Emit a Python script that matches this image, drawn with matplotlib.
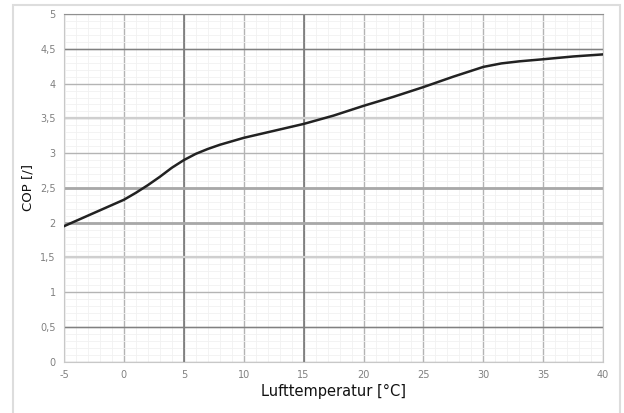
import matplotlib.pyplot as plt
from matplotlib.patches import Rectangle
from matplotlib.ticker import MultipleLocator, FuncFormatter

plt.rcParams['axes.unicode_minus'] = False

# Lufttemperatur [°C] und COP-Werte
temp = [-5, -2.5, 0, 1, 2, 3, 4, 5, 6, 7, 8, 10, 12.5, 15, 17.5, 20, 22.5, 25,
        27.5, 30, 31.5, 33, 35, 37.5, 40]
cop = [1.95, 2.14, 2.33, 2.43, 2.54, 2.66, 2.79, 2.9, 2.99, 3.06, 3.12, 3.22,
       3.32, 3.42, 3.54, 3.68, 3.81, 3.95, 4.1, 4.24, 4.29, 4.32, 4.35, 4.39, 4.42]

x_ticks = [-5, 0, 5, 10, 15, 20, 25, 30, 35, 40]
y_ticks = [0, 0.5, 1, 1.5, 2, 2.5, 3, 3.5, 4, 4.5, 5]

fig = plt.figure(figsize=(6.24, 4.13), dpi=100)
ax = fig.add_axes([0.1026, 0.124, 0.864, 0.842])

# aeusserer Rahmen
fig.patches.append(Rectangle((13 / 624, -0.01), 607 / 624, 1 - 5 / 413 + 0.01,
                             transform=fig.transFigure, fill=False,
                             edgecolor='#dddddd', linewidth=1.5))

ax.set_xlim(-5, 40)
ax.set_ylim(0, 5)
ax.set_xticks(x_ticks)
ax.set_yticks(y_ticks)
ax.xaxis.set_minor_locator(MultipleLocator(1))
ax.yaxis.set_minor_locator(MultipleLocator(0.1))
ax.yaxis.set_major_formatter(FuncFormatter(lambda v, p: ('%g' % v).replace('.', ',')))

ax.grid(which='minor', color='#f1f1f1', linewidth=0.6)
ax.grid(which='major', color='#b4b4b4', linewidth=1.0)
ax.set_axisbelow(True)

# dunklere Hauptlinien wie im Original
for xv in [5, 15]:
    ax.axvline(xv, color='#707070', linewidth=1.1, zorder=1)
for yv in [4.5, 0.5]:
    ax.axhline(yv, color='#808080', linewidth=1.0, zorder=1)
for yv in [2, 2.5]:
    ax.axhline(yv, color='#a8a8a8', linewidth=2.0, zorder=1)
for yv in [3.5, 1.5]:
    ax.axhline(yv, color='#cfcfcf', linewidth=1.6, zorder=1)

ax.plot(temp, cop, color='#222222', linewidth=1.8, zorder=3)

for s in ax.spines.values():
    s.set_color('#c8c8c8')
    s.set_linewidth(0.8)
ax.spines['top'].set_color('#909090')

ax.tick_params(which='both', length=0, labelsize=7, labelcolor='#808080', pad=6)

ax.set_xlabel('Lufttemperatur [°C]', fontsize=10.5, color='#111111', labelpad=3)
ax.set_ylabel('COP [/]', fontsize=9.5, color='#111111', labelpad=4)

fig.savefig('out.png', dpi=100)
